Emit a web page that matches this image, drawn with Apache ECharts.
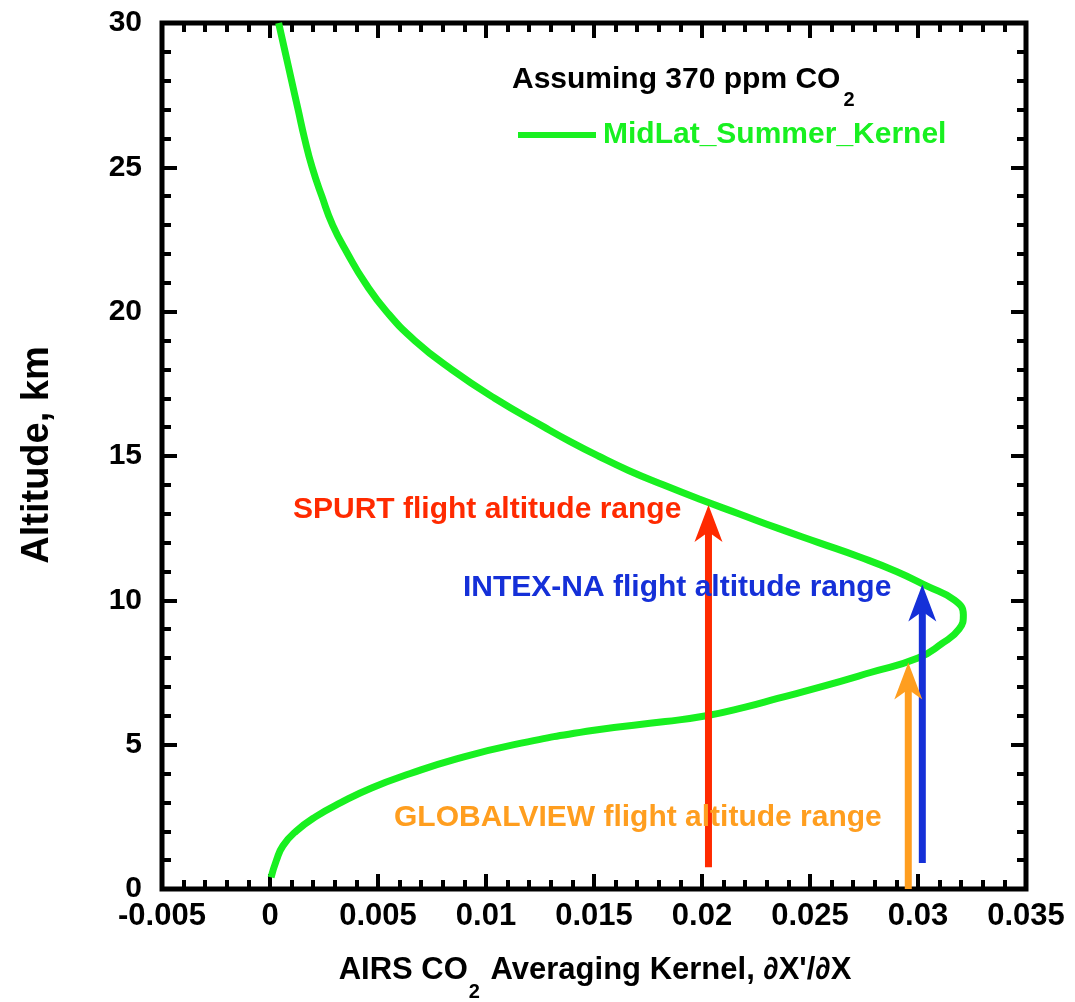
<!DOCTYPE html>
<html><head><meta charset="utf-8">
<script src="https://cdn.jsdelivr.net/npm/echarts@6/dist/echarts.min.js"></script>
<style>html,body{margin:0;padding:0;background:#fff}#c{width:1075px;height:1002px}</style>
</head><body><div id="c"></div>
<script>
// ---- data ----
const altitudes = [0.4, 1, 1.5, 2, 2.5, 3, 3.5, 4, 4.5, 5, 5.5, 5.8, 6, 6.3, 6.6, 7, 7.5, 8, 8.5, 9, 9.5, 10, 10.5, 11, 11.5, 12, 12.5, 13, 13.5, 14, 14.5, 15, 15.5, 16, 17, 18, 19, 20, 21, 22, 23, 24, 25, 26, 27, 28, 29, 30];
const kernel = [0.00005, 0.0003, 0.0006, 0.0012, 0.0021, 0.0033, 0.0047, 0.0065, 0.0086, 0.0113, 0.0150, 0.0183, 0.0202, 0.0220, 0.0235, 0.0255, 0.0278, 0.0300, 0.0311, 0.0319, 0.0321, 0.0317, 0.0304, 0.0290, 0.0273, 0.0254, 0.0235, 0.0217, 0.0199, 0.0182, 0.0166, 0.0152, 0.0139, 0.0127, 0.0104, 0.0084, 0.0067, 0.0054, 0.0044, 0.0036, 0.0029, 0.0024, 0.00195, 0.0016, 0.0013, 0.0010, 0.0007, 0.0004];
const xTickLabels = ['-0.005', '0', '0.005', '0.01', '0.015', '0.02', '0.025', '0.03', '0.035'];
const yTickLabels = ['0', '5', '10', '15', '20', '25', '30'];
const arrowNames = ['SPURT', 'INTEX-NA', 'GLOBALVIEW'];
const arrowX = [0.0203, 0.0302, 0.02955];
const arrowFrom = [0.75, 0.9, 0];
const arrowTo = [13.3, 10.55, 7.85];

// ---- styles ----
const GREEN = '#18f020', RED = '#ff2a00', BLUE = '#1530d8', ORANGE = '#ff9e1f';
const arrowColors = [RED, BLUE, ORANGE];
const FONT = '"Liberation Sans", Arial, sans-serif';

const ctx = document.createElement('canvas').getContext('2d');
function tw(t, size) { ctx.font = 'bold ' + size + 'px ' + FONT; return ctx.measureText(t).width; }

const chart = echarts.init(document.getElementById('c'));

const axisCommon = {
  type: 'value',
  axisLine: { show: false, onZero: false },
  axisTick: { show: true, inside: true, length: 15, lineStyle: { color: '#000', width: 4 } },
  minorTick: { show: true, splitNumber: 5, length: 9, lineStyle: { color: '#000', width: 4 } },
  splitLine: { show: false },
  minorSplitLine: { show: false }
};
const xMin = -0.005, xInt = 0.005, yMin = 0, yInt = 5;

// text graphics
const g = [];
function txt(text, x, y, size, color, align, rot) {
  g.push({ type: 'text', x: x, y: y, rotation: rot || 0, z: 100,
    style: { text: text, fill: color, font: 'bold ' + size + 'px ' + FONT, align: align || 'left', verticalAlign: 'middle' } });
}
// header
const hdr = 'Assuming 370 ppm CO';
txt(hdr, 512, 80, 30, '#000');
txt('2', 512 + tw(hdr, 30) + 3, 100, 20, '#000');
// annotations
txt(arrowNames[0] + ' flight altitude range', 293, 510, 30, RED);
txt(arrowNames[1] + ' flight altitude range', 463, 588, 30, BLUE);
txt(arrowNames[2] + ' flight altitude range', 394, 818, 30, ORANGE);
// y axis title
txt('Altitude, km', 38, 455, 38, '#000', 'center', Math.PI / 2);
// x axis title
const xt1 = 'AIRS CO', xt3 = " Averaging Kernel, \u2202X'/\u2202X";
const w1 = tw(xt1, 31), ws = tw('2', 20), w3 = tw(xt3, 31);
const xs = 595 - (w1 + ws + 3 + w3) / 2;
txt(xt1, xs, 970, 31, '#000');
txt('2', xs + w1 + 1, 992, 20, '#000');
txt(xt3, xs + w1 + ws + 3, 970, 31, '#000');

chart.setOption({
  animation: false,
  backgroundColor: '#fff',
  grid: { left: 162, right: 49, top: 23, bottom: 113, show: true, borderColor: '#000', borderWidth: 5, backgroundColor: 'transparent' },
  legend: {
    left: 518, top: 120, padding: 0, itemWidth: 78, itemHeight: 6, icon: 'rect',
    data: ['MidLat_Summer_Kernel'],
    textStyle: { color: GREEN, fontWeight: 'bold', fontSize: 30, fontFamily: FONT, padding: [4, 0, 0, 2] }
  },
  xAxis: [
    Object.assign({}, axisCommon, {
      min: xMin, max: 0.035, interval: xInt, position: 'bottom',
      axisLabel: { margin: 12, color: '#000', fontWeight: 'bold', fontSize: 31, fontFamily: FONT,
        formatter: v => xTickLabels[Math.round((v - xMin) / xInt)] }
    }),
    Object.assign({}, axisCommon, {
      min: xMin, max: 0.035, interval: xInt, position: 'top', axisLabel: { show: false }
    })
  ],
  yAxis: [
    Object.assign({}, axisCommon, {
      min: yMin, max: 30, interval: yInt, position: 'left',
      axisLabel: { margin: 20, color: '#000', fontWeight: 'bold', fontSize: 30, fontFamily: FONT,
        formatter: v => yTickLabels[Math.round((v - yMin) / yInt)] }
    }),
    Object.assign({}, axisCommon, {
      min: yMin, max: 30, interval: yInt, position: 'right', axisLabel: { show: false }
    })
  ],
  series: [
    {
      name: 'MidLat_Summer_Kernel', type: 'line', xAxisIndex: 0, yAxisIndex: 0,
      data: altitudes.map((a, i) => [kernel[i], a]),
      showSymbol: false, smooth: 0.5, z: 3,
      lineStyle: { color: GREEN, width: 7 }, itemStyle: { color: GREEN }
    },
    {
      name: 'arrows', type: 'custom', xAxisIndex: 0, yAxisIndex: 0, z: 4, clip: false,
      data: arrowX.map((x, i) => [x, arrowFrom[i], arrowTo[i]]),
      renderItem: function (params, api) {
        const p0 = api.coord([api.value(0), api.value(1)]);
        const p1 = api.coord([api.value(0), api.value(2)]);
        const c = arrowColors[params.dataIndex];
        const L = 37, W = 14, N = 27;
        return { type: 'group', children: [
          { type: 'line', shape: { x1: p0[0], y1: p0[1], x2: p1[0], y2: p1[1] + N - 2 }, style: { stroke: c, lineWidth: 7 } },
          { type: 'polygon', shape: { points: [[p1[0], p1[1]], [p1[0] + W, p1[1] + L], [p1[0], p1[1] + N], [p1[0] - W, p1[1] + L]] }, style: { fill: c } }
        ] };
      }
    }
  ],
  graphic: g
});
</script>
</body></html>
